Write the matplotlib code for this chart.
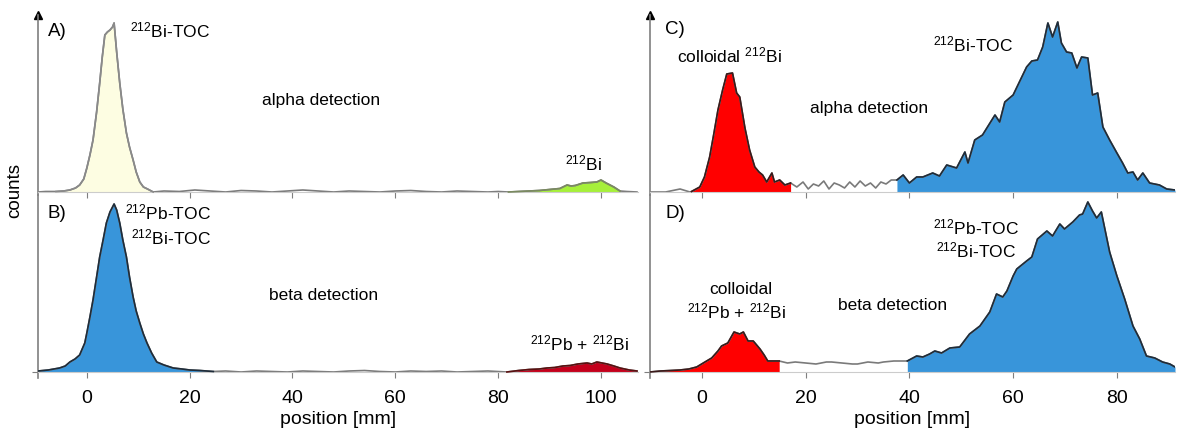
import numpy as np
import matplotlib.pyplot as plt

plt.rcParams['font.family'] = ['Liberation Sans', 'DejaVu Sans']
plt.rcParams['mathtext.fontset'] = 'custom'
plt.rcParams['mathtext.rm'] = 'Liberation Sans'
plt.rcParams['mathtext.it'] = 'Liberation Sans:italic'
plt.rcParams['mathtext.bf'] = 'Liberation Sans:bold'

# --- data (position in mm, counts in arbitrary units) ---
pos_a = [-9.5, -8, -6, -4.5, -3.3, -2.2, -1.4, -0.6, 0, 0.6, 1.2, 1.9, 2.5, 3.0, 3.5,
         4.0, 4.5, 5.0, 5.3, 5.8, 6.4, 7.0, 7.7, 8.3, 9.0, 9.6, 10.3, 11.0, 11.8, 12.9,
         15, 18, 21, 24, 27, 30, 33, 36, 39, 42, 45, 48, 51, 54, 57, 60, 63, 66, 69,
         72, 75, 78, 80, 82, 84, 86, 88, 90, 92, 93.4, 94.2, 95, 96.5, 98, 99.2, 100,
         101, 102.5, 103.7, 105, 107]
cnt_a = [0, 0.5, 0.5, 1, 2, 4, 7, 13, 24, 37, 52, 80, 109, 135, 157,
         160, 162, 165, 169, 140, 109, 83, 59, 45, 32, 20, 10, 5, 3, 0,
         1, 0.5, 2, 1, 0, 1.5, 1, 0, 1, 2, 1, 0, 1, 0.5, 0, 1, 1.5, 0.5, 0,
         1, 0.5, 0, 0.5, 0, 0.5, 1, 1.5, 2.5, 3.5, 7, 6, 6.5, 9, 9.5, 10, 12,
         9, 5, 1, 0.5, 0]

pos_b = [-9.5, -7.5, -5.3, -4.2, -3.3, -2.3, -1.4, -0.4, 0, 0.6, 1.2, 1.9, 2.5, 3.2,
         3.8, 4.5, 5.3, 5.8, 6.4, 7.0, 7.7, 8.3, 9.0, 9.6, 10.3, 11.0, 11.7, 12.6, 13.6,
         15, 16.8, 18.5, 20, 22, 24.6, 27, 30, 33, 36, 39, 42, 45, 48, 51, 54, 57, 60,
         63, 66, 69, 72, 75, 78, 81.7, 84, 86, 88, 89.5, 91, 92.6, 94, 95.5, 97.3, 98.2,
         99.2, 100.2, 101.2, 102.5, 103.7, 105.5, 107]
cnt_b = [1, 2, 4, 6, 10, 13, 17, 29, 39, 55, 72, 95, 115, 133,
         149, 160, 168, 162, 149, 132, 115, 95, 75, 61, 49, 38, 29, 19, 10,
         7, 4, 3, 2, 1.5, 0.5, 1, 0, 1, 0.5, 0, 1, 0.5, 0, 1, 1.5, 0.5, 0,
         1, 0.5, 1, 0, 0.5, 1, 0, 1.5, 2.5, 3, 4, 4.5, 6, 6.5, 8, 9, 8,
         10, 9, 8, 6, 4, 2, 1]

pos_c = [-10, -7, -4.2, -2.3, -2.0, -0.4, 0.5, 1.5, 2.3, 3.1, 4.0, 4.8, 5.9, 6.7, 7.3,
         8.3, 9.2, 10.2, 11.0, 11.7, 12.5, 13.5, 14.0, 15.0, 16.0, 17.1, 18.3, 19.5,
         20.5, 21.5, 22.5, 23.5, 24.5, 25.5, 26.5, 27.5, 28.5, 29.5, 30.5, 31.5, 32.5,
         33.5, 34.5, 35.5, 36.5, 37.6, 38.8, 40.0, 41.4, 42.6, 44.5, 45.8, 47.2, 49.1,
         50.7, 51.3, 52.6, 54.1, 56.5, 57.4, 58.4, 60.0, 62.6, 63.6, 64.7, 65.7, 66.7,
         67.6, 68.6, 69.3, 70.3, 71.3, 72.3, 73.2, 74.4, 75.3, 76.3, 77.3, 78.6, 80.0,
         81.1, 82.1, 83.1, 84.0, 85.0, 86.3, 88.2, 89.6, 91.2]
cnt_c = [0, 0, 3, 0, 0.5, 5, 15, 35, 58, 82, 102, 118, 119, 99, 95,
         64, 42, 25, 20, 17, 10, 19, 10, 12, 7, 9, 5, 10,
         3, 8, 6, 11, 3, 9, 7, 4, 10, 5, 11, 6, 9,
         4, 10, 8, 12, 12, 17, 9, 15, 15, 19, 16, 27, 24,
         40, 29, 52, 57, 77, 70, 90, 97, 125, 131, 132, 145, 169,
         155, 170, 149, 140, 139, 124, 135, 134, 97, 99, 65, 52, 39,
         29, 19, 20, 12, 19, 9, 7, 3, 2]

pos_d = [-10, -8, -6, -4.2, -2.5, -1.0, 0.6, 1.9, 3.1, 3.8, 5.0, 6.2, 7.3, 8.0, 8.9,
         9.9, 11.2, 12.0, 12.7, 13.7, 14.9, 16.5, 18, 20, 22, 24, 25, 27, 29, 30, 32,
         34, 35, 37, 39.6, 41.4, 42.6, 43.9, 44.9, 46.2, 47.8, 49.7, 51.6, 53.6, 55.5,
         56.8, 58.0, 58.8, 60.0, 60.7, 62.6, 63.6, 64.7, 66.5, 67.6, 69.0, 69.9, 71.5,
         72.8, 73.4, 74.4, 75.3, 76.1, 77.0, 78.6, 80.0, 81.5, 83.1, 84.4, 85.7, 87.3,
         88.8, 90.2, 91.2]
cnt_d = [0, 1, 1.5, 2, 3, 5, 10, 14, 21, 26, 29, 40, 38, 40, 31,
         31, 23, 17, 11, 11, 11, 9, 10, 9, 8, 10, 10, 9, 8, 8, 10,
         9, 10, 11, 11, 16, 15, 18, 21, 19, 24, 25, 38, 46, 60,
         78, 75, 81, 96, 103, 111, 115, 133, 141, 136, 148, 143, 150,
         157, 158, 170, 161, 154, 160, 120, 96, 73, 46, 33, 16, 14,
         10, 8, 5]

# filled regions: (from mm, to mm, face colour, edge colour)
fills_a = [(-6, 12.9, '#fdfde2', '#8a8a8a'), (82, 104, '#a6f03a', '#7a8a60')]
fills_b = [(-9.5, 24.6, '#3895da', '#1e2c3a'), (81.7, 107, '#c4001c', '#5a1010')]
fills_c = [(-2.0, 17.1, '#ff0000', '#3a1a1a'), (37.6, 91.2, '#3895da', '#1e2c3a')]
fills_d = [(-10, 14.9, '#ff0000', '#3a1a1a'), (39.6, 91.2, '#3895da', '#1e2c3a')]

LINE = '#7a7a7a'
AXIS = '#7f7f7f'

W, H = 1178, 429
fig = plt.figure(figsize=(W / 100, H / 100), dpi=100)


def px_axes(x0, x1, y0, y1):
    return fig.add_axes([x0 / W, 1 - y1 / H, (x1 - x0) / W, (y1 - y0) / H])


def draw(ax, pos, cnt, fills):
    pos = np.asarray(pos, float)
    cnt = np.asarray(cnt, float)
    assert len(pos) == len(cnt), (len(pos), len(cnt))
    for lo, hi, face, edge in fills:
        m = (pos >= lo) & (pos <= hi)
        ax.fill_between(pos[m], 0, cnt[m], color=face, lw=0, zorder=1)
    ax.plot(pos, cnt, color=LINE, lw=1.2, zorder=2)
    for lo, hi, face, edge in fills:
        m = (pos >= lo) & (pos <= hi)
        ax.plot(pos[m], cnt[m], color=edge, lw=1.2, zorder=3)


ax_a = px_axes(38, 638, 15, 195)
ax_b = px_axes(38, 638, 195, 378)
ax_c = px_axes(650, 1175, 15, 195)
ax_d = px_axes(650, 1175, 195, 378)

draw(ax_a, pos_a, cnt_a, fills_a)
draw(ax_b, pos_b, cnt_b, fills_b)
draw(ax_c, pos_c, cnt_c, fills_c)
draw(ax_d, pos_d, cnt_d, fills_d)

for ax in (ax_a, ax_b, ax_c, ax_d):
    ax.spines['top'].set_visible(False)
    ax.spines['right'].set_visible(False)
    ax.spines['left'].set_color(AXIS)
    ax.spines['left'].set_linewidth(1.2)
    ax.spines['bottom'].set_position(('data', 0))
    ax.spines['bottom'].set_color('#cccccc')
    ax.set_yticks([])
    ax.tick_params(axis='x', direction='out', length=4, color=AXIS,
                   labelsize=14, pad=9)
    ax.patch.set_alpha(0)

for ax in (ax_a, ax_c):
    ax.set_ylim(-3, 177)
    ax.tick_params(labelbottom=False)
    ax.plot(0, 1, marker='^', ms=6, color='k', transform=ax.transAxes, clip_on=False)
for ax in (ax_b, ax_d):
    ax.set_ylim(-6, 177)
    ax.set_yticks([0])
    ax.set_yticklabels([''])
    ax.tick_params(axis='y', length=4, color=AXIS)
    ax.set_xlabel('position [mm]', fontsize=14, labelpad=3)

for ax in (ax_a, ax_b):
    ax.set_xlim(-9.5, 107.2)
    ax.set_xticks([0, 20, 40, 60, 80, 100])
for ax in (ax_c, ax_d):
    ax.set_xlim(-10, 91.2)
    ax.set_xticks([0, 20, 40, 60, 80])

fs = 12.5
ax_a.text(-7.6, 160, 'A)', fontsize=13.5, va='center')
ax_a.text(8.4, 162, '$^{212}$Bi-TOC', fontsize=fs, va='center')
ax_a.text(45.5, 92, 'alpha detection', fontsize=fs, ha='center', va='center')
ax_a.text(96.7, 29, '$^{212}$Bi', fontsize=fs, ha='center', va='center')

ax_b.text(-7.6, 159, 'B)', fontsize=13.5, va='center')
ax_b.text(24.1, 160, '$^{212}$Pb-TOC', fontsize=fs, ha='right', va='center')
ax_b.text(24.1, 135, '$^{212}$Bi-TOC', fontsize=fs, ha='right', va='center')
ax_b.text(46.1, 77, 'beta detection', fontsize=fs, ha='center', va='center')
ax_b.text(95.9, 29, '$^{212}$Pb + $^{212}$Bi', fontsize=fs, ha='center', va='center')

ax_c.text(-7.1, 162, 'C)', fontsize=13.5, va='center')
ax_c.text(5.4, 137, 'colloidal $^{212}$Bi', fontsize=fs, ha='center', va='center')
ax_c.text(32.2, 84, 'alpha detection', fontsize=fs, ha='center', va='center')
ax_c.text(52.2, 148, '$^{212}$Bi-TOC', fontsize=fs, ha='center', va='center')

ax_d.text(-7.1, 158, 'D)', fontsize=13.5, va='center')
ax_d.text(7.5, 83, 'colloidal', fontsize=fs, ha='center', va='center')
ax_d.text(6.7, 61, '$^{212}$Pb + $^{212}$Bi', fontsize=fs, ha='center', va='center')
ax_d.text(36.8, 66, 'beta detection', fontsize=fs, ha='center', va='center')
ax_d.text(52.8, 145, '$^{212}$Pb-TOC', fontsize=fs, ha='center', va='center')
ax_d.text(52.8, 122, '$^{212}$Bi-TOC', fontsize=fs, ha='center', va='center')

fig.text(15 / W, 1 - 190 / H, 'counts', rotation=90, fontsize=13.5,
         ha='center', va='center')

fig.savefig('out.png', dpi=100)
